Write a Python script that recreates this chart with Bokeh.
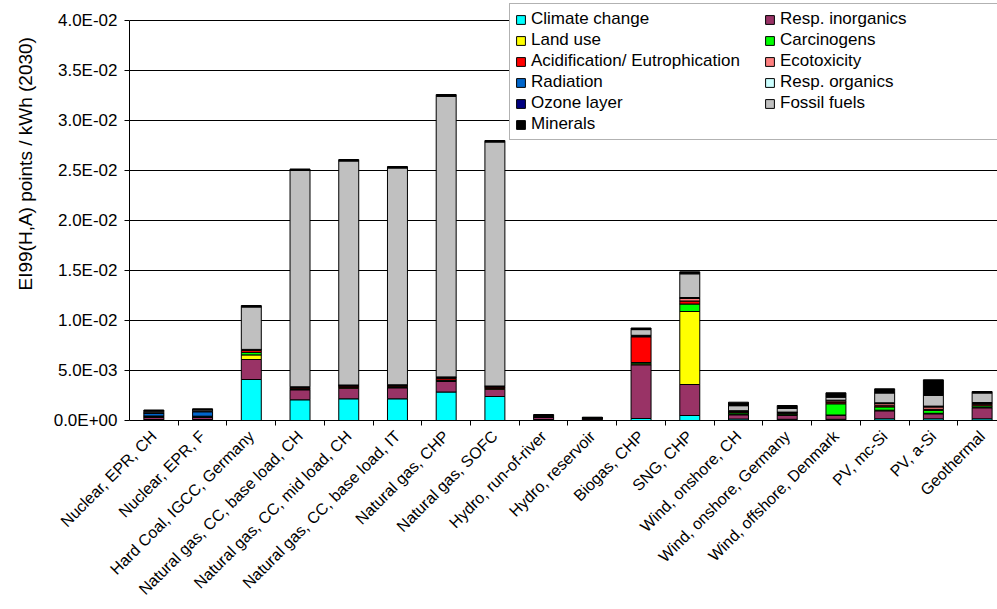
from math import pi
from bokeh.plotting import figure
from bokeh.models import ColumnDataSource, Range1d, FixedTicker, Legend, LegendItem, Title
from bokeh.embed import file_html
from bokeh.resources import INLINE

categories = [
    "Nuclear, EPR, CH", "Nuclear, EPR, F", "Hard Coal, IGCC, Germany",
    "Natural gas, CC, base load, CH", "Natural gas, CC, mid load, CH",
    "Natural gas, CC, base load, IT", "Natural gas, CHP", "Natural gas, SOFC",
    "Hydro, run-of-river", "Hydro, reservoir", "Biogas, CHP", "SNG, CHP",
    "Wind, onshore, CH", "Wind, onshore, Germany", "Wind, offshore, Denmark",
    "PV, mc-Si", "PV, a-Si", "Geothermal",
]

climate_change = [1.0e-4, 1.0e-4, 41.0e-4, 20.7e-4, 21.7e-4, 21.7e-4, 28.5e-4, 24.0e-4, 1.0e-4,
                  0.8e-4, 2.0e-4, 5.0e-4, 1.5e-4, 1.2e-4, 1.2e-4, 1.7e-4, 1.7e-4, 1.7e-4]
resp_inorganics = [2.0e-4, 2.0e-4, 20.0e-4, 10.0e-4, 10.6e-4, 11.0e-4, 10.5e-4, 7.3e-4, 2.0e-4,
                   1.0e-4, 53.7e-4, 31.0e-4, 4.2e-4, 4.0e-4, 4.0e-4, 8.0e-4, 5.0e-4, 11.0e-4]
land_use = [0.2e-4, 0.2e-4, 4.6e-4, 0.5e-4, 0.5e-4, 0.5e-4, 0.7e-4, 0.5e-4, 0.2e-4,
            0.1e-4, 1.0e-4, 73.0e-4, 0.4e-4, 0.3e-4, 0.3e-4, 0.6e-4, 0.5e-4, 0.5e-4]
carcinogens = [0.5e-4, 0.4e-4, 2.5e-4, 0.5e-4, 0.5e-4, 0.5e-4, 0.7e-4, 0.5e-4, 0.3e-4,
               0.2e-4, 1.3e-4, 7.5e-4, 1.5e-4, 1.0e-4, 11.2e-4, 3.3e-4, 3.0e-4, 1.5e-4]
acidification = [0.5e-4, 0.4e-4, 2.0e-4, 1.0e-4, 1.2e-4, 1.0e-4, 1.8e-4, 1.2e-4, 0.3e-4,
                 0.2e-4, 25.7e-4, 3.0e-4, 0.8e-4, 0.6e-4, 1.7e-4, 1.2e-4, 1.0e-4, 1.5e-4]
ecotoxicity = [0.3e-4, 0.3e-4, 0.5e-4, 0.3e-4, 0.3e-4, 0.3e-4, 0.4e-4, 0.3e-4, 0.1e-4,
               0.05e-4, 0.6e-4, 2.5e-4, 0.8e-4, 0.7e-4, 1.3e-4, 2.0e-4, 2.3e-4, 0.8e-4]
radiation = [3.0e-4, 4.5e-4, 0.3e-4, 0.3e-4, 0.3e-4, 0.3e-4, 0.4e-4, 0.3e-4, 0.1e-4,
             0.05e-4, 0.4e-4, 0.5e-4, 0.3e-4, 0.3e-4, 0.3e-4, 0.5e-4, 0.5e-4, 0.5e-4]
resp_organics = [0.1e-4, 0.1e-4, 0.1e-4, 0.2e-4, 0.2e-4, 0.2e-4, 0.3e-4, 0.2e-4, 0.05e-4,
                 0.02e-4, 0.2e-4, 0.2e-4, 0.1e-4, 0.1e-4, 0.1e-4, 0.2e-4, 0.2e-4, 0.2e-4]
ozone_layer = [0.2e-4, 0.2e-4, 0.1e-4, 0.2e-4, 0.2e-4, 0.2e-4, 0.3e-4, 0.2e-4, 0.05e-4,
               0.03e-4, 0.3e-4, 0.3e-4, 0.2e-4, 0.2e-4, 0.2e-4, 0.2e-4, 0.2e-4, 0.3e-4]
fossil_fuels = [1.5e-4, 1.4e-4, 42.4e-4, 216.3e-4, 224.0e-4, 216.8e-4, 280.6e-4, 244.0e-4, 0.5e-4,
                0.35e-4, 5.7e-4, 23.7e-4, 5.0e-4, 3.6e-4, 3.0e-4, 9.8e-4, 10.7e-4, 9.5e-4]
minerals = [1.2e-4, 1.2e-4, 1.5e-4, 1.5e-4, 1.5e-4, 1.5e-4, 1.8e-4, 1.5e-4, 1.4e-4,
            0.5e-4, 1.6e-4, 2.0e-4, 3.5e-4, 3.0e-4, 4.4e-4, 4.2e-4, 15.6e-4, 1.5e-4]

# stacking order (bottom -> top)
series_names = ["Climate change", "Resp. inorganics", "Land use", "Carcinogens",
                "Acidification/ Eutrophication", "Ecotoxicity", "Radiation",
                "Resp. organics", "Ozone layer", "Fossil fuels", "Minerals"]
series_values = [climate_change, resp_inorganics, land_use, carcinogens, acidification,
                 ecotoxicity, radiation, resp_organics, ozone_layer, fossil_fuels, minerals]
series_colors = ["#00FFFF", "#993366", "#FFFF00", "#00FF00", "#FF0000", "#FF8080",
                 "#0066CC", "#CCFFFF", "#000080", "#C0C0C0", "#000000"]

legend_order = ["Climate change", "Land use", "Acidification/ Eutrophication", "Radiation",
                "Ozone layer", "Minerals",
                "Resp. inorganics", "Carcinogens", "Ecotoxicity", "Resp. organics", "Fossil fuels"]

y_tick_values = [0, 0.005, 0.01, 0.015, 0.02, 0.025, 0.03, 0.035, 0.04]
y_tick_labels = ["0.0E+00", "5.0E-03", "1.0E-02", "1.5E-02", "2.0E-02",
                 "2.5E-02", "3.0E-02", "3.5E-02", "4.0E-02"]
y_title = "EI99(H,A) points / kWh (2030)"

FONT = "Liberation Sans"

x_centers = [i + 0.5 for i in range(len(categories))]
x_bounds = [i for i in range(1, len(categories))]
keys = ["s%d" % i for i in range(len(series_names))]
data = {"x": x_centers}
for k, vals in zip(keys, series_values):
    data[k] = vals
src = ColumnDataSource(data)

# frame spans a little above the 4.0E-02 line so the legend can sit at the top edge
p = figure(width=997, height=609, x_range=Range1d(0, 17.816), y_range=Range1d(0, 0.0418),
           output_backend="svg", toolbar_location=None,
           min_border_left=124, min_border_right=0, min_border_top=2, min_border_bottom=189)
p.outline_line_color = None
p.background_fill_color = "white"

rs = p.vbar_stack(keys, x="x", width=0.41, fill_color=series_colors, line_color="black",
                  line_width=1, source=src)
rmap = dict(zip(series_names, rs))

# y axis
p.yaxis.ticker = FixedTicker(ticks=y_tick_values, minor_ticks=[])
p.yaxis.bounds = (y_tick_values[0], y_tick_values[-1])
p.yaxis.major_label_overrides = dict(zip(y_tick_values, y_tick_labels))
p.yaxis.major_tick_out = 5
p.yaxis.major_tick_in = 0
p.yaxis.major_label_standoff = 7
p.yaxis.axis_line_color = "black"
p.yaxis.major_tick_line_color = "black"
p.yaxis.major_label_text_font = FONT
p.yaxis.major_label_text_font_size = "17px"
p.yaxis.major_label_text_color = "black"

# x axis
p.xaxis.ticker = FixedTicker(ticks=x_centers, minor_ticks=x_bounds)
p.xaxis.major_label_overrides = dict(zip(x_centers, categories))
p.xaxis.major_tick_line_color = None
p.xaxis.major_tick_out = 0
p.xaxis.major_tick_in = 0
p.xaxis.minor_tick_line_color = "black"
p.xaxis.minor_tick_out = 5
p.xaxis.minor_tick_in = 0
p.xaxis.axis_line_color = "black"
p.xaxis.major_label_orientation = pi / 4
p.xaxis.major_label_standoff = 8
p.xaxis.major_label_text_font = FONT
p.xaxis.major_label_text_font_size = "16px"
p.xaxis.major_label_text_color = "black"

p.xgrid.visible = False
p.ygrid.ticker = FixedTicker(ticks=y_tick_values)
p.ygrid.grid_line_color = "black"
p.ygrid.grid_line_width = 1

p.add_layout(Title(text=y_title, align="left", offset=130, vertical_align="middle",
                   standoff=27, text_font=FONT, text_font_size="19px",
                   text_font_style="normal", text_color="black"), "left")

legend = Legend(items=[LegendItem(label=n, renderers=[rmap[n]]) for n in legend_order],
                location=(380, 280), orientation="vertical", nrows=6,
                glyph_width=11, glyph_height=11, label_standoff=5, label_width=232,
                label_height=20, spacing=1, padding=5, margin=0,
                border_line_color="#666666", border_line_width=1,
                background_fill_color="white", background_fill_alpha=1,
                label_text_font=FONT, label_text_font_size="17px", label_text_color="black")
p.add_layout(legend)

open("out.html", "w").write(file_html(p, INLINE))
